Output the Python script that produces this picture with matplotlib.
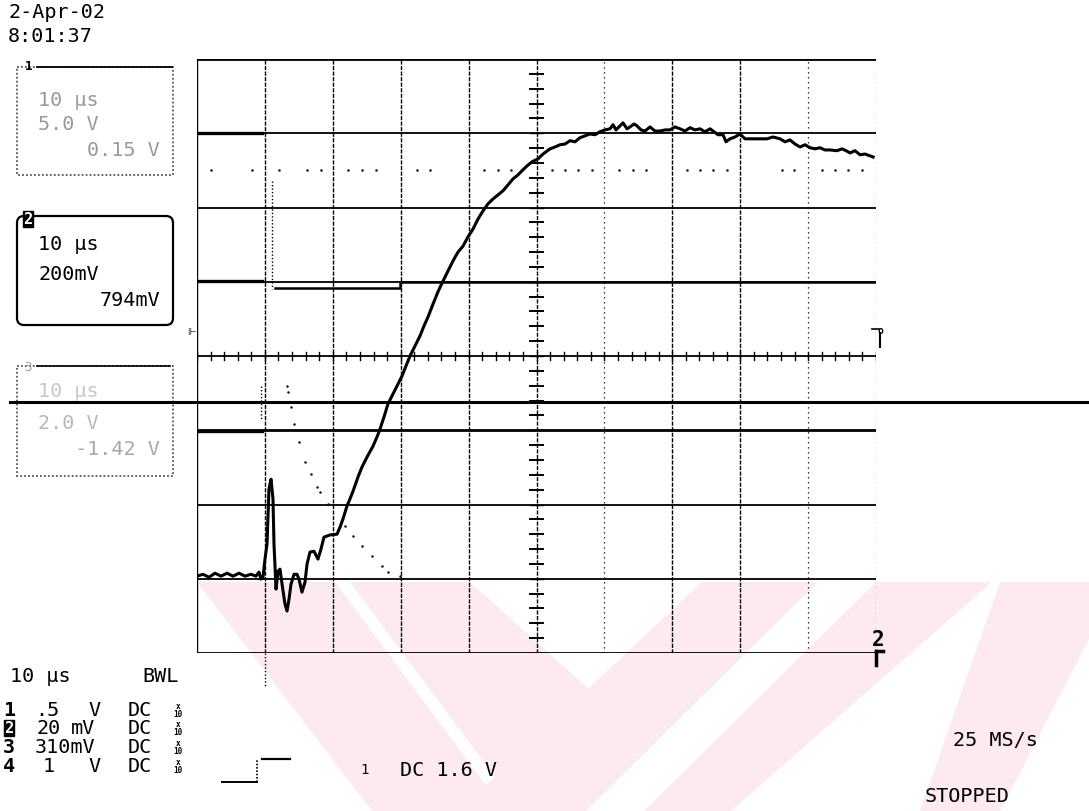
import matplotlib
matplotlib.use("Agg")
import matplotlib.pyplot as plt
from matplotlib.patches import Polygon, FancyBboxPatch, Rectangle

# ---------------- data (time in µs, screen value in mV at 200 mV/div) -------------
ch2_t = [0.0, 0.88, 1.77, 2.65, 3.53, 4.42, 5.30, 6.19, 7.07, 7.95, 8.69, 9.13, 9.43, 9.72,
         10.01, 10.31, 10.60, 10.90, 11.19, 11.34, 11.64, 11.93, 12.22, 12.67, 12.96, 13.26,
         13.55, 13.84, 14.29, 14.73, 15.02, 15.46, 15.91, 16.20, 16.64, 17.23, 17.82, 18.26,
         18.70, 19.59, 20.62, 21.06, 21.50, 22.09, 22.53, 22.98, 23.71, 24.30, 25.04, 25.92,
         26.51, 26.95, 27.54, 28.13, 28.87, 29.60, 30.19, 30.78, 31.37, 32.11, 32.84, 33.43,
         34.02, 34.76, 35.49, 36.23, 36.97, 37.70, 38.44, 39.18, 39.91, 40.65, 41.39, 42.12,
         42.86, 43.59, 44.33, 45.07, 45.80, 46.54, 47.28, 47.87, 48.60, 49.34, 50.22, 50.96,
         51.99, 52.73, 53.46, 54.20, 54.94, 55.67, 56.41, 57.14, 57.88, 58.62, 59.35, 60.09,
         60.83, 61.27, 61.71, 62.30, 62.74, 63.33, 63.77, 64.36, 64.80, 65.39, 65.98, 66.72,
         67.45, 68.19, 68.93, 69.66, 70.40, 71.14, 71.87, 72.61, 73.35, 74.08, 74.82, 75.56,
         76.00, 76.73, 77.47, 77.91, 78.50, 79.24, 79.97, 80.71, 81.89, 82.92, 83.95, 84.83,
         85.86, 86.60, 87.34, 88.07, 88.81, 89.55, 90.28, 91.02, 91.76, 92.49, 93.23, 94.26,
         95.00, 95.59, 96.18, 96.91, 97.65, 98.39, 99.13, 99.57]
ch2_v = [-593, -588, -596, -585, -593, -585, -593, -585, -593, -588, -593, -582, -601, -596,
         -547, -507, -358, -332, -385, -507, -628, -580, -574, -633, -668, -687,
         -655, -615, -588, -588, -601, -636, -609, -561, -528, -526, -547, -520,
         -488, -482, -480, -461, -439, -404, -385, -364, -326, -299, -272, -243,
         -218, -197, -164, -129, -102, -75, -54, -27, 0, 27, 54, 81,
         105, 140, 173, 202, 229, 256, 280, 296, 321, 342, 369, 391,
         410, 423, 434, 445, 461, 477, 488, 499, 512, 523, 531, 544,
         558, 563, 569, 571, 580, 577, 588, 593, 598, 596, 604, 609,
         612, 623, 609, 620, 628, 612, 617, 625, 620, 609, 606, 617,
         606, 606, 609, 609, 617, 612, 606, 615, 609, 612, 604, 612,
         606, 596, 596, 577, 585, 590, 598, 585, 585, 585, 585, 590,
         585, 577, 582, 571, 563, 569, 561, 558, 561, 555, 555, 553,
         558, 553, 547, 553, 542, 544, 539, 536]

ch3_t = [13.26, 13.40, 13.84, 14.29, 15.02, 15.91, 16.79, 17.67, 18.12, 19.29, 21.80,
         22.98, 24.30, 25.77, 27.25, 28.13, 29.90]
ch3_v = [-81, -97, -137, -183, -232, -286, -318, -353, -367, -399, -458,
         -485, -512, -539, -566, -582, -593]

ch1_t = [2.06, 8.10, 12.08, 16.20, 18.26, 22.24, 24.30, 26.36, 32.40, 34.32, 42.27, 44.33,
         46.25, 52.29, 54.20, 56.12, 58.17, 62.15, 64.21, 66.12, 72.17, 74.08, 76.00, 78.06,
         86.16, 87.93, 92.05, 93.97, 95.88, 97.94]
ch1_level = 501

pre_t = [0.0, 9.6]
pre_levels = [601, 202, -202]          # thick pre-trigger segments
ch4_t = [11.5, 29.9, 29.9, 100.0]
ch4_v = [183, 183, 199, 199]
step_t = 11.05
step_v = [472, 181]
ch3b_t = 9.4
ch3b_v = [-81, -170]

grid_t = [0, 10, 20, 30, 40, 50, 60, 70, 80, 90, 100]
grid_t_faint = [60, 90, 100]
grid_v = [-800, -600, -400, -200, 0, 200, 400, 600, 800]

W, H = 1089, 812
fig = plt.figure(figsize=(W / 100, H / 100), dpi=100)
fig.patch.set_facecolor("white")

ov = fig.add_axes([0, 0, 1, 1], zorder=0)
ov.set_xlim(0, W)
ov.set_ylim(H, 0)
ov.axis("off")

ax = fig.add_axes([197 / W, (H - 654) / H, 679 / W, 594 / H], zorder=1)
ax.set_xlim(0, 100)
ax.set_ylim(-800, 800)
ax.axis("off")
ax.patch.set_alpha(0)

# ---------------- watermark (light pink stripes) ----------------
pink = "#fdeaee"
wm = [
    [(197, 583), (335, 583), (505, 812), (372, 812)],
    [(350, 583), (470, 583), (600, 700), (560, 812), (520, 812)],
    [(702, 583), (818, 583), (586, 812), (458, 812)],
    [(876, 583), (992, 583), (731, 812), (644, 812)],
    [(1000, 583), (1089, 583), (1089, 640), (1000, 812), (920, 812)],
]
for poly in wm:
    ov.add_patch(Polygon(poly, closed=True, facecolor=pink, edgecolor="none", zorder=0))

# ---------------- graticule ----------------
for t in grid_t:
    if t == 0:
        ax.plot([t, t], [-800, 800], color="black", lw=1.0, zorder=2)
    elif t in grid_t_faint:
        ax.plot([t, t], [-800, 800], color="black", lw=0.9, ls=(0, (1, 3)), zorder=2)
    else:
        ax.plot([t, t], [-800, 800], color="black", lw=1.0, ls=(0, (3, 1)), zorder=2)
for v in grid_v:
    lw = 2.0 if v in (800, -200) else 1.3
    ax.plot([0, 100], [v, v], color="black", lw=lw, zorder=2)
# centre ticks
for k in range(-40, 41, 2):
    v = k * 20
    ax.plot([49.0, 51.0], [v, v], color="black", lw=1.4 if k % 10 else 1.0, zorder=2)
for k in range(0, 51):
    t = k * 2
    ax.plot([t, t], [-12, 12], color="black", lw=1.0, zorder=2)

# ---------------- traces ----------------
ax.plot(ch2_t, ch2_v, color="black", lw=2.2, zorder=5, solid_joinstyle="round")
ax.scatter(ch3_t, ch3_v, s=3, color="black", zorder=4, lw=0)
ax.scatter(ch1_t, [ch1_level] * len(ch1_t), s=3, color="black", zorder=4, lw=0)
for lev in pre_levels:
    ax.plot(pre_t, [lev, lev], color="black", lw=2.4, zorder=4)
ax.plot(ch4_t, ch4_v, color="black", lw=1.8, zorder=4)
ax.plot([step_t, step_t], step_v, color="black", lw=1.0, ls=(0, (1, 1.5)), zorder=4)
ax.plot([ch3b_t, ch3b_t], ch3b_v, color="black", lw=1.0, ls=(0, (1, 1.5)), zorder=4)
ax.plot([10, 10], [-800, -890], color="black", lw=1.0, ls=(0, (1, 1.5)), clip_on=False)

# long horizontal line across the whole picture
ov.plot([10, 1089], [403, 403], color="black", lw=2.2, zorder=3)

# ---------------- markers ----------------
mono = "DejaVu Sans Mono"
ov.text(880, 331, "o", fontsize=7, family=mono, ha="center", va="center", fontweight="bold")
ov.plot([880, 880], [334, 348], color="black", lw=1.5)
ov.plot([872, 879], [330, 330], color="black", lw=1.2)
ov.text(191, 332, "⊩", fontsize=7, family="DejaVu Sans", ha="center", va="center")
ov.text(878, 640, "2", fontsize=15, family=mono, fontweight="bold", ha="center", va="center")
ov.plot([876, 876], [652, 666], color="black", lw=2.5)
ov.plot([876, 883], [652, 652], color="black", lw=2.5)

# ---------------- header ----------------
fs = 14.5
ov.text(8, 12, "2-Apr-02", fontsize=fs, family=mono, va="center")
ov.text(8, 36, "8:01:37", fontsize=fs, family=mono, va="center")

# ---------------- channel boxes ----------------
faint = "#9a9a9a"
ov.add_patch(Rectangle((17, 68), 156, 108, fill=False, ls=(0, (1, 1.2)), lw=1.3, ec="#555555"))
ov.plot([37, 172], [68, 68], color="black", lw=1.3)
ov.text(29, 66, "1", fontsize=9, family=mono, fontweight="bold", ha="center", va="center")
ov.text(38, 100, "10 µs", fontsize=fs, family=mono, va="center", color=faint)
ov.text(38, 125, "5.0 V", fontsize=fs, family=mono, va="center", color=faint)
ov.text(160, 150, "0.15 V", fontsize=fs, family=mono, va="center", ha="right", color=faint)

ov.add_patch(FancyBboxPatch((17, 217), 156, 109, boxstyle="round,pad=0,rounding_size=7",
                            fill=False, lw=1.6, ec="black"))
ov.add_patch(Rectangle((23, 212), 10, 16, fc="black", ec="black"))
ov.text(28, 220, "2", fontsize=11, family=mono, fontweight="bold", color="white",
        ha="center", va="center")
ov.text(38, 245, "10 µs", fontsize=fs, family=mono, va="center")
ov.text(38, 275, "200mV", fontsize=fs, family=mono, va="center")
ov.text(160, 301, "794mV", fontsize=fs, family=mono, va="center", ha="right")

ov.add_patch(Rectangle((17, 367), 156, 110, fill=False, ls=(0, (1, 1.2)), lw=1.3, ec="#555555"))
ov.plot([37, 170], [367, 367], color="black", lw=1.2)
ov.text(28, 368, "3", fontsize=9, family=mono, color=faint, ha="center", va="center")
ov.text(38, 392, "10 µs", fontsize=fs, family=mono, va="center", color="#c8c8c8")
ov.text(38, 424, "2.0 V", fontsize=fs, family=mono, va="center", color="#b8b8b8")
ov.text(160, 450, "-1.42 V", fontsize=fs, family=mono, va="center", ha="right", color="#a8a8a8")

# ---------------- bottom settings ----------------
ov.text(10, 677, "10 µs", fontsize=fs, family=mono, va="center")
ov.text(142, 677, "BWL", fontsize=fs, family=mono, va="center")

row_y = [711, 729, 748, 767]
row_num = ["1", "2", "3", "4"]
row_val = [".5", "20", "310mV", "1"]
row_val_x = [35, 37, 35, 43]
row_unit = ["V", "mV", "", "V"]
row_unit_x = [88, 71, 0, 88]
for i, y in enumerate(row_y):
    if i == 1:
        ov.add_patch(Rectangle((4, y - 8), 10, 16, fc="black", ec="black"))
        ov.text(9, y, row_num[i], fontsize=11, family=mono, fontweight="bold",
                color="white", ha="center", va="center")
    else:
        ov.text(9, y, row_num[i], fontsize=fs, family=mono, fontweight="bold",
                ha="center", va="center")
    ov.text(row_val_x[i], y, row_val[i], fontsize=fs, family=mono, va="center")
    if row_unit[i]:
        ov.text(row_unit_x[i], y, row_unit[i], fontsize=fs, family=mono, va="center")
    ov.text(128, y, "DC", fontsize=fs, family=mono, va="center")
    ov.text(178, y - 4, "x", fontsize=5.5, family=mono, fontweight="bold", ha="center", va="center")
    ov.text(178, y + 4, "10", fontsize=5.5, family=mono, fontweight="bold", ha="center", va="center")

# trigger
ov.plot([222, 257], [783, 783], color="black", lw=1.4)
ov.plot([257, 257], [783, 761], color="black", lw=1.2, ls=(0, (1, 1)))
ov.plot([262, 290], [760, 760], color="black", lw=1.6)
ov.text(365, 770, "1", fontsize=10, family=mono, ha="center", va="center")
ov.text(400, 771, "DC 1.6 V", fontsize=fs, family=mono, va="center")
ov.text(953, 741, "25 MS/s", fontsize=fs, family=mono, va="center")
ov.text(925, 797, "STOPPED", fontsize=fs, family=mono, va="center")

fig.savefig("out.png", dpi=100, facecolor="white")
